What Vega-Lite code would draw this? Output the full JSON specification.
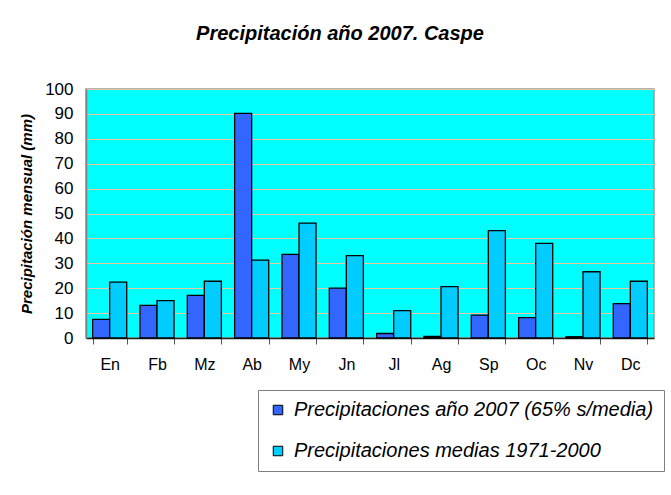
{
  "$schema": "https://vega.github.io/schema/vega-lite/v6.json",
  "width": 568,
  "height": 249,
  "autosize": "none",
  "padding": {"left": 86, "top": 89, "right": 17, "bottom": 157},
  "background": "white",
  "title": {
    "text": "Precipitación año 2007. Caspe",
    "font": "Liberation Sans",
    "fontSize": 20,
    "fontWeight": "bold",
    "fontStyle": "italic",
    "color": "black",
    "anchor": "middle",
    "dx": -30,
    "offset": 36
  },
  "data": {
    "values": [
      {"mes": "En", "serie": "Precipitaciones año 2007 (65% s/media)", "mm": 7.5},
      {"mes": "En", "serie": "Precipitaciones medias 1971-2000", "mm": 22.4},
      {"mes": "Fb", "serie": "Precipitaciones año 2007 (65% s/media)", "mm": 13.1},
      {"mes": "Fb", "serie": "Precipitaciones medias 1971-2000", "mm": 15.0},
      {"mes": "Mz", "serie": "Precipitaciones año 2007 (65% s/media)", "mm": 17.1},
      {"mes": "Mz", "serie": "Precipitaciones medias 1971-2000", "mm": 22.8},
      {"mes": "Ab", "serie": "Precipitaciones año 2007 (65% s/media)", "mm": 90.2},
      {"mes": "Ab", "serie": "Precipitaciones medias 1971-2000", "mm": 31.3},
      {"mes": "My", "serie": "Precipitaciones año 2007 (65% s/media)", "mm": 33.6},
      {"mes": "My", "serie": "Precipitaciones medias 1971-2000", "mm": 46.1},
      {"mes": "Jn", "serie": "Precipitaciones año 2007 (65% s/media)", "mm": 20.0},
      {"mes": "Jn", "serie": "Precipitaciones medias 1971-2000", "mm": 33.1},
      {"mes": "Jl", "serie": "Precipitaciones año 2007 (65% s/media)", "mm": 1.8},
      {"mes": "Jl", "serie": "Precipitaciones medias 1971-2000", "mm": 11.0},
      {"mes": "Ag", "serie": "Precipitaciones año 2007 (65% s/media)", "mm": 0.6},
      {"mes": "Ag", "serie": "Precipitaciones medias 1971-2000", "mm": 20.6},
      {"mes": "Sp", "serie": "Precipitaciones año 2007 (65% s/media)", "mm": 9.2},
      {"mes": "Sp", "serie": "Precipitaciones medias 1971-2000", "mm": 43.1},
      {"mes": "Oc", "serie": "Precipitaciones año 2007 (65% s/media)", "mm": 8.2},
      {"mes": "Oc", "serie": "Precipitaciones medias 1971-2000", "mm": 38.0},
      {"mes": "Nv", "serie": "Precipitaciones año 2007 (65% s/media)", "mm": 0.5},
      {"mes": "Nv", "serie": "Precipitaciones medias 1971-2000", "mm": 26.6},
      {"mes": "Dc", "serie": "Precipitaciones año 2007 (65% s/media)", "mm": 13.8},
      {"mes": "Dc", "serie": "Precipitaciones medias 1971-2000", "mm": 22.8}
    ]
  },
  "mark": {"type": "bar", "stroke": "black", "strokeWidth": 1.3},
  "encoding": {
    "x": {
      "field": "mes",
      "type": "nominal",
      "sort": ["En", "Fb", "Mz", "Ab", "My", "Jn", "Jl", "Ag", "Sp", "Oc", "Nv", "Dc"],
      "scale": {"paddingInner": 0.28, "paddingOuter": 0.14},
      "axis": {
        "title": null,
        "labelAngle": 0,
        "labelFont": "Liberation Sans",
        "labelFontSize": 16,
        "labelColor": "black",
        "labelPadding": 12,
        "tickBand": "extent",
        "tickSize": 6,
        "tickColor": "#555555",
        "domainColor": "#222222",
        "domainWidth": 1.5
      }
    },
    "xOffset": {
      "field": "serie",
      "sort": ["Precipitaciones año 2007 (65% s/media)", "Precipitaciones medias 1971-2000"]
    },
    "y": {
      "field": "mm",
      "type": "quantitative",
      "scale": {"domain": [0, 100], "nice": false},
      "axis": {
        "title": "Precipitación mensual (mm)",
        "titleFont": "Liberation Sans",
        "titleFontSize": 15,
        "titleFontWeight": "bold",
        "titleFontStyle": "italic",
        "titleColor": "black",
        "titlePadding": 10,
        "values": [0, 10, 20, 30, 40, 50, 60, 70, 80, 90, 100],
        "labelFont": "Liberation Sans",
        "labelFontSize": 17,
        "labelColor": "black",
        "labelPadding": 13,
        "ticks": false,
        "domainColor": "#808080",
        "domainWidth": 1.5,
        "grid": true,
        "gridColor": "#E8C8A0",
        "gridWidth": 1.2,
        "gridOpacity": 1
      }
    },
    "color": {
      "field": "serie",
      "type": "nominal",
      "scale": {
        "domain": ["Precipitaciones año 2007 (65% s/media)", "Precipitaciones medias 1971-2000"],
        "range": ["#3366FF", "#00CCFF"]
      },
      "legend": {
        "title": null,
        "orient": "none",
        "legendX": 172,
        "legendY": 301,
        "direction": "vertical",
        "fillColor": "white",
        "strokeColor": "#808080",
        "padding": 10,
        "labelFont": "Liberation Sans",
        "labelFontSize": 20,
        "labelFontStyle": "italic",
        "labelColor": "black",
        "labelLimit": 600,
        "labelOffset": 6,
        "symbolType": "square",
        "symbolSize": 90,
        "symbolStrokeColor": "black",
        "symbolStrokeWidth": 1,
        "rowPadding": 21
      }
    }
  },
  "config": {
    "view": {"fill": "#00FFFF", "stroke": "#999999", "strokeWidth": 1.5}
  }
}
